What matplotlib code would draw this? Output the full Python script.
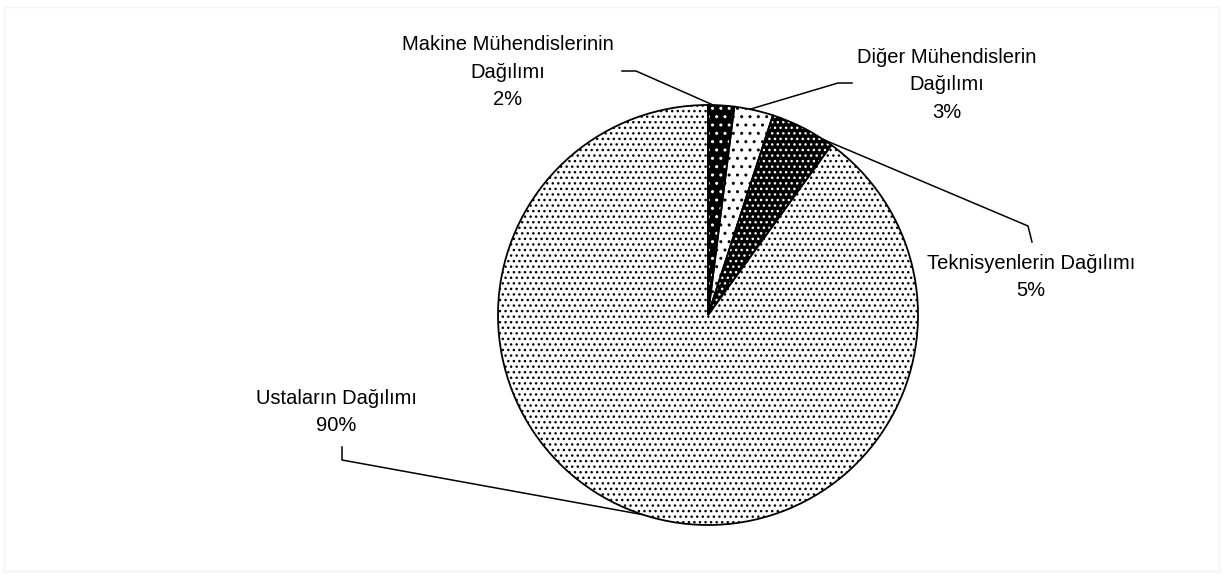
import numpy as np
import matplotlib.pyplot as plt
from matplotlib.patches import Rectangle

W, H = 1228, 579

labels = ['Makine Mühendislerinin\nDağılımı', 'Diğer Mühendislerin\nDağılımı',
          'Teknisyenlerin Dağılımı', 'Ustaların Dağılımı']
values = [2, 3, 5, 90]

face = ['black', 'white', 'black', 'white']
dots = ['white', 'black', 'white', 'black']
hatches = ['..', '..', '...', '...']

# label placement in image pixels (x, y of text centre), leader line knee points
text_xy = [(508, 72), (947, 85), (1031, 277), (336, 412)]
knees = [[(622, 71), (636, 71)], [(852, 83), (838, 83)],
         [(1032, 242), (1028, 226)], [(342, 447), (342, 460)]]
anchor_frac = [0.2, 0.4, 0.85, 0.5]

cx, cy, r = 708, 315, 210

plt.rcParams['font.family'] = ['Liberation Sans', 'DejaVu Sans']
plt.rcParams['hatch.linewidth'] = 1.0

fig = plt.figure(figsize=(W / 100, H / 100), dpi=100)
ax = fig.add_axes([0, 0, 1, 1])

center = (cx, H - cy)
wedges, _ = ax.pie(values, center=center, radius=r, startangle=90,
                   counterclock=False, colors=face,
                   wedgeprops=dict(linewidth=0))
for w, ec, h in zip(wedges, dots, hatches):
    w.set_edgecolor(ec)
    w.set_hatch(h)
ax.pie(values, center=center, radius=r, startangle=90, counterclock=False,
       wedgeprops=dict(fill=False, edgecolor='black', linewidth=1.3))

total = sum(values)
start = 0.0
for i, v in enumerate(values):
    frac = v / total
    a = np.deg2rad(90 - 360 * (start + frac * anchor_frac[i]))
    start += frac
    ax_pt = (cx + r * np.cos(a), cy - r * np.sin(a))
    pts = [knees[i][0], knees[i][1], ax_pt]
    ax.plot([p[0] for p in pts], [H - p[1] for p in pts], color='black', lw=1.1)
    tx, ty = text_xy[i]
    ax.text(tx, H - ty, f'{labels[i]}\n{v}%', ha='center', va='center',
            fontsize=14.5, linespacing=1.55, color='black')

ax.add_patch(Rectangle((4, H - 571), 1215, 564, fill=False, edgecolor='#f3f3f3', lw=1))

ax.set_xlim(0, W)
ax.set_ylim(0, H)
ax.set_aspect('equal')
ax.axis('off')

fig.savefig('out.png', dpi=100)
